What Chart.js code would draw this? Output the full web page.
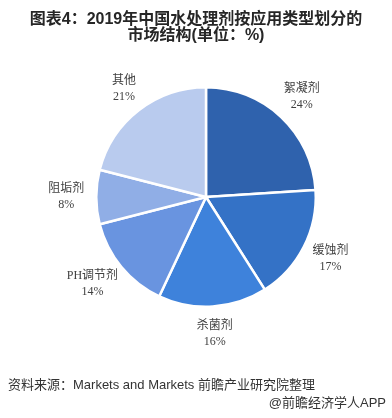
<!DOCTYPE html>
<html>
<head>
<meta charset="utf-8">
<script src="https://cdn.jsdelivr.net/npm/chart.js@4.4.1/dist/chart.umd.min.js"></script>
<style>
    html, body { margin: 0; padding: 0; background: #fff; }
    #wrap { position: relative; width: 392px; height: 418px; overflow: hidden; }
    #graphe { position: absolute; left: 0; top: 0; }
    .titre {
        position: absolute; left: 0; top: 11px; width: 392px;
        text-align: center; font: bold 16px "Liberation Sans", "Noto Sans CJK SC", sans-serif;
        line-height: 16px; color: #262626;
    }
    .source {
        position: absolute; left: 8px; top: 376px;
        font: 13px "Liberation Sans", "Noto Sans CJK SC", sans-serif; color: #333;
        line-height: 18px; white-space: nowrap;
    }
    .app {
        position: absolute; right: 6px; top: 394px;
        font: 13px "Liberation Sans", "Noto Sans CJK SC", sans-serif; color: #333;
        line-height: 18px; white-space: nowrap;
    }
</style>
</head>
<body>
<div id="wrap">
    <canvas id="graphe" width="392" height="418"></canvas>
    <div class="titre">图表4：2019年中国水处理剂按应用类型划分的<br>市场结构(单位：%)</div>
    <div class="source">资料来源：Markets and Markets 前瞻产业研究院整理</div>
    <div class="app">@前瞻经济学人APP</div>
</div>
<script>
// Données
const categories = ['絮凝剂', '缓蚀剂', '杀菌剂', 'PH调节剂', '阻垢剂', '其他'];
const valeurs = [24, 17, 16, 14, 8, 21];
const couleurs = ['#2F62AD', '#3472C6', '#3E82DB', '#6994E0', '#90AEE6', '#B9CBEE'];

// Étiquettes à l'extérieur du camembert : nom + pourcentage
const etiquettes = {
    id: 'etiquettes',
    afterDatasetsDraw(chart) {
        const ctx = chart.ctx;
        const meta = chart.getDatasetMeta(0);
        ctx.save();
        ctx.font = '12px "Liberation Serif", "Noto Sans CJK SC", serif';
        ctx.fillStyle = '#404040';
        ctx.textAlign = 'center';
        ctx.textBaseline = 'middle';
        meta.data.forEach((arc, i) => {
            const mid = (arc.startAngle + arc.endAngle) / 2;
            const ux = Math.cos(mid), uy = Math.sin(mid);
            const texte = [categories[i], valeurs[i] + '%'];
            const w = Math.max(...texte.map(t => ctx.measureText(t).width));
            const h = 30;
            const d = arc.outerRadius + 12;
            const cx = arc.x + ux * d + ux * w / 2;
            const cy = arc.y + uy * d + uy * h / 2;
            ctx.fillText(texte[0], cx, cy - 8);
            ctx.fillText(texte[1], cx, cy + 8);
        });
        ctx.restore();
    }
};

new Chart(document.getElementById('graphe').getContext('2d'), {
    type: 'pie',
    data: {
        labels: categories,
        datasets: [{
            data: valeurs,
            backgroundColor: couleurs,
            borderColor: '#ffffff',
            borderWidth: 2.5
        }]
    },
    options: {
        responsive: false,
        animation: false,
        devicePixelRatio: 1,
        layout: { padding: { left: 95, right: 75, top: 86, bottom: 110 } },
        plugins: {
            legend: { display: false },
            tooltip: { enabled: false }
        }
    },
    plugins: [etiquettes]
});
</script>
</body>
</html>
